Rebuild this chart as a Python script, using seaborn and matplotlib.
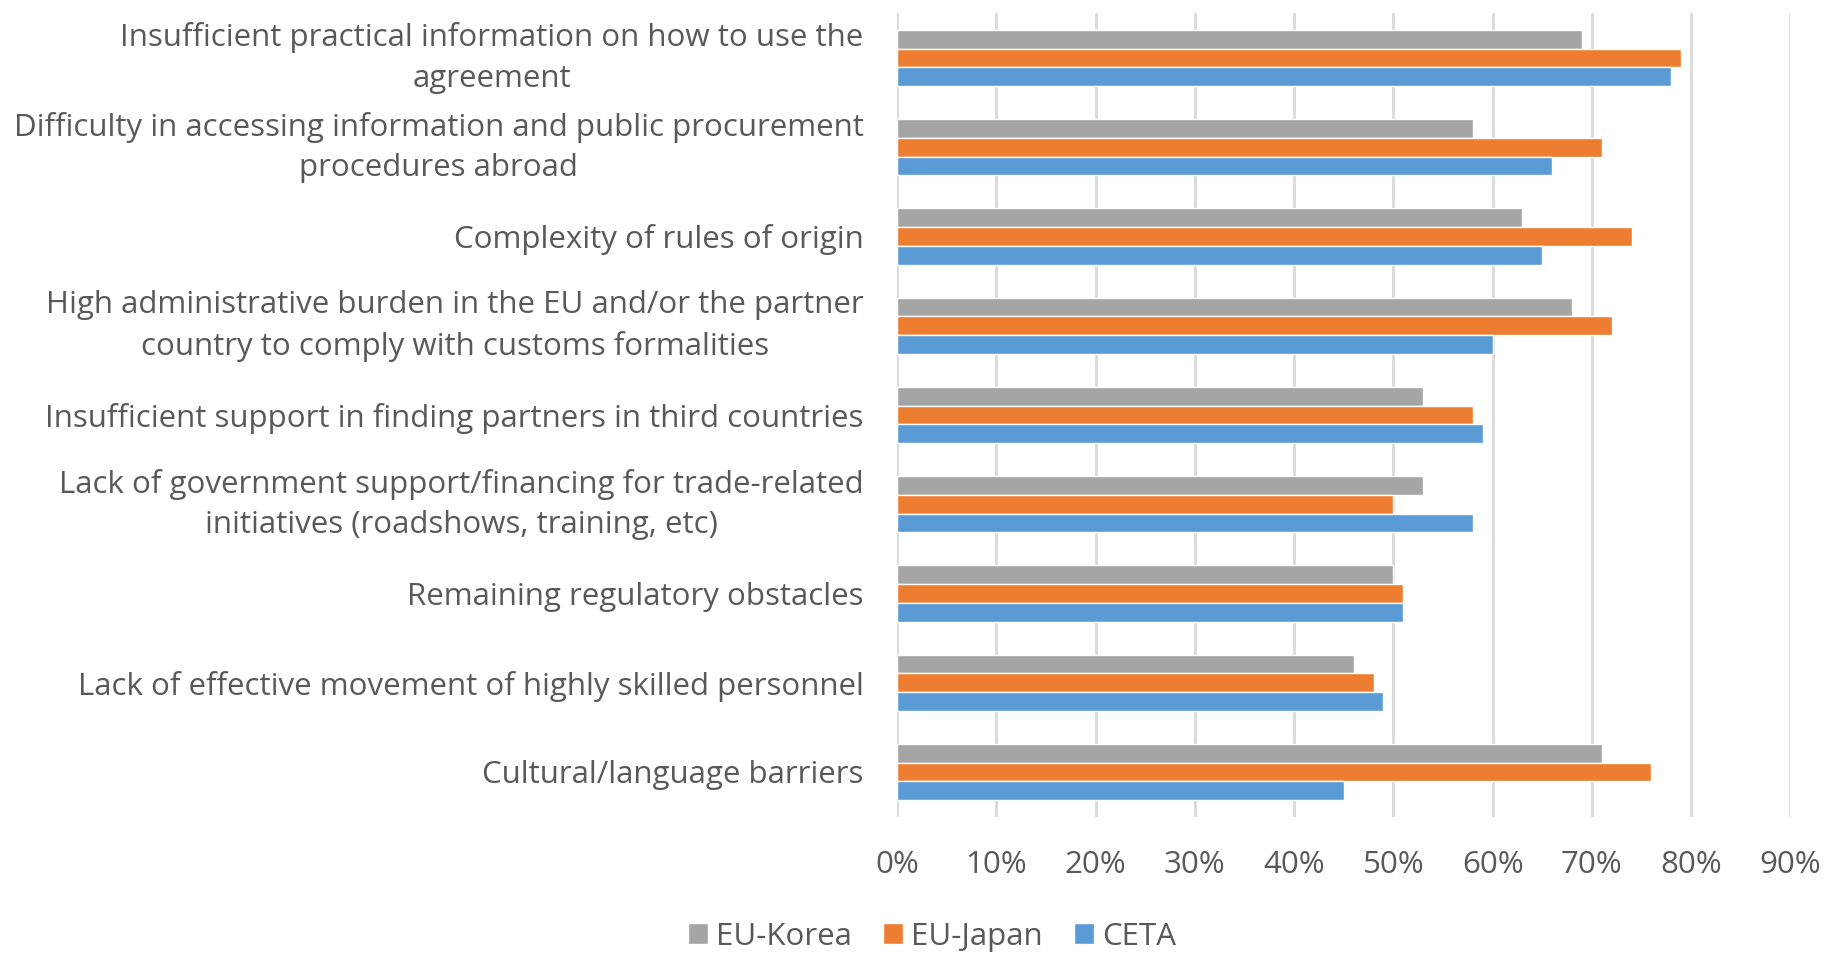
import seaborn as sns
import pandas as pd
import matplotlib.pyplot as plt
from matplotlib.ticker import PercentFormatter

# categories, top to bottom as in the chart
barriers = [
    "Insufficient practical information on how to use the\nagreement",
    "Difficulty in accessing information and public procurement\nprocedures abroad",
    "Complexity of rules of origin",
    "High administrative burden in the EU and/or the partner\ncountry to comply with customs formalities",
    "Insufficient support in finding partners in third countries",
    "Lack of government support/financing for trade-related\ninitiatives (roadshows, training, etc)",
    "Remaining regulatory obstacles",
    "Lack of effective movement of highly skilled personnel",
    "Cultural/language barriers",
]
eu_korea = [69, 58, 63, 68, 53, 53, 50, 46, 71]
eu_japan = [79, 71, 74, 72, 58, 50, 51, 48, 76]
ceta = [78, 66, 65, 60, 59, 58, 51, 49, 45]
agreements = ["EU-Korea", "EU-Japan", "CETA"]
colors = ["#A5A5A5", "#ED7D31", "#5B9BD5"]

df = pd.DataFrame({
    "barrier": barriers * 3,
    "agreement": [a for a in agreements for _ in barriers],
    "share": eu_korea + eu_japan + ceta,
})

sns.set_style("white")
plt.rcParams["font.family"] = ["Open Sans", "DejaVu Sans"]
text_color = "#595959"
fs = 22.5

fig = plt.figure(figsize=(18.27, 9.55), dpi=100)
ax = fig.add_axes([0.491, 0.145, 0.489, 0.841])

sns.barplot(data=df, x="share", y="barrier", hue="agreement",
            hue_order=agreements, palette=colors, width=0.63,
            saturation=1, orient="h", ax=ax, legend=True)

ax.set_xlim(0, 90)
ax.set_ylim(8.5, -0.5)
ax.set_xticks(range(0, 91, 10))
ax.xaxis.set_major_formatter(PercentFormatter(decimals=0))
ax.grid(axis="x", color="#D9D9D9", linewidth=2)
ax.set_axisbelow(True)
for s in ax.spines.values():
    s.set_visible(False)
ax.set_xlabel("")
ax.set_ylabel("")
ax.tick_params(axis="both", length=0, colors=text_color, labelsize=fs)
ax.tick_params(axis="x", pad=24)
ax.tick_params(axis="y", pad=24)
for lab in ax.get_yticklabels():
    lab.set_multialignment("center")
    lab.set_linespacing(1.45)
    if "\n" in lab.get_text():
        lab.set_verticalalignment("center")

ax.get_legend().remove()
handles, labels = ax.get_legend_handles_labels()
fig.legend(handles, labels, loc="center", bbox_to_anchor=(0.51, 0.019),
           ncol=3, frameon=False, fontsize=fs, labelcolor=text_color,
           handlelength=0.65, handleheight=0.65, handletextpad=0.25,
           columnspacing=1.0)

plt.savefig("out.png", dpi=100)
